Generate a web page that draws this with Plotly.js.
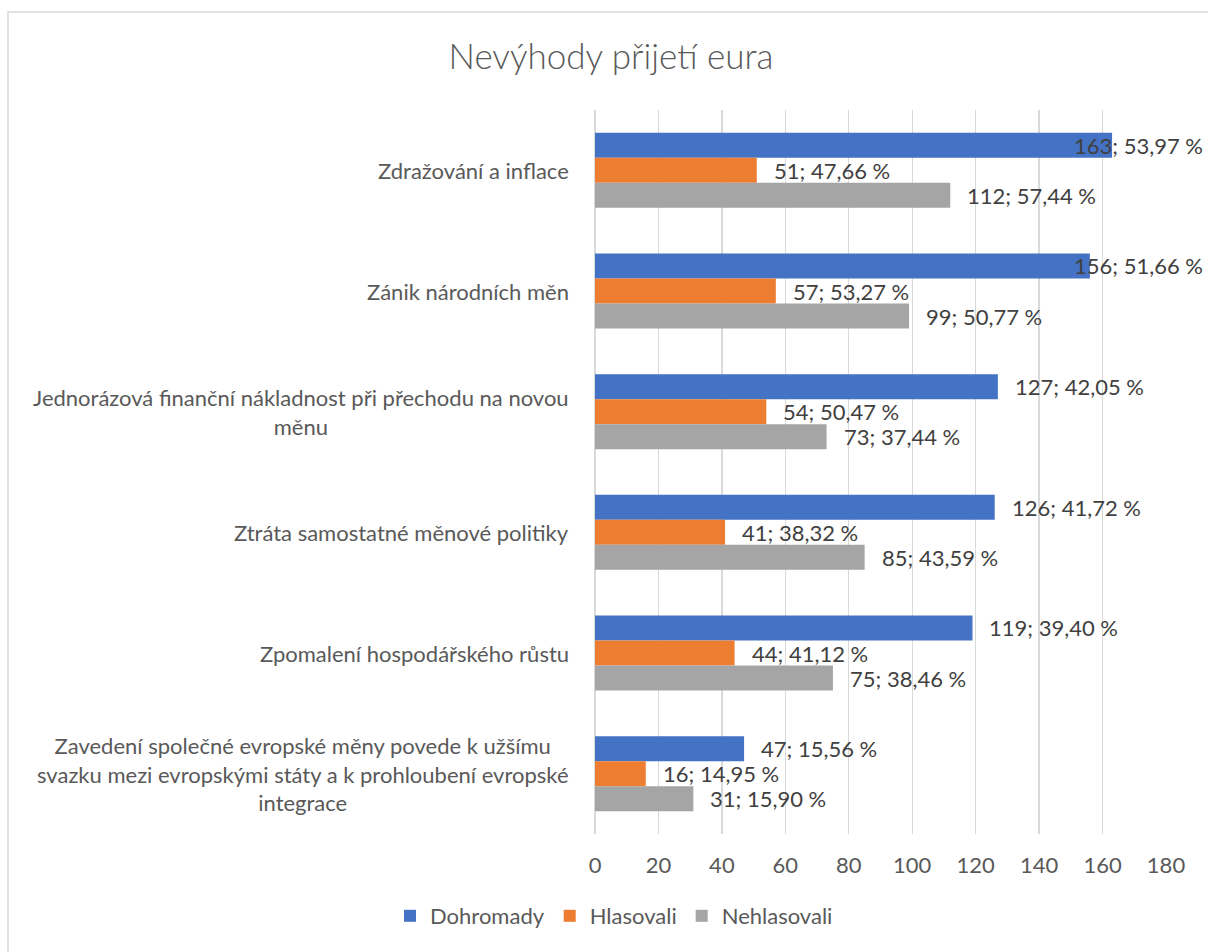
<!DOCTYPE html>
<html>
<head>
<meta charset="utf-8">
<script src="https://cdn.plot.ly/plotly-3.0.1.min.js"></script>
<style>
html,body{margin:0;padding:0;background:#fff;}
#chart{width:1208px;height:952px;}
</style>
</head>
<body>
<div id="chart"></div>
<script>
// ---- data ----
const categories = [
  "Zdražování a inflace",
  "Zánik národních měn",
  "Jednorázová finanční nákladnost při přechodu na novou<br>měnu",
  "Ztráta samostatné měnové politiky",
  "Zpomalení hospodářského růstu",
  "Zavedení společné evropské měny povede k užšímu<br>svazku mezi evropskými státy a k prohloubení evropské<br>integrace"
];
const seriesNames = ["Dohromady", "Hlasovali", "Nehlasovali"];
const dohromady = [163, 156, 127, 126, 119, 47];
const hlasovali = [51, 57, 54, 41, 44, 16];
const nehlasovali = [112, 99, 73, 85, 75, 31];
const dohromadyPct = [53.97, 51.66, 42.05, 41.72, 39.40, 15.56];
const hlasovaliPct = [47.66, 53.27, 50.47, 38.32, 41.12, 14.95];
const nehlasovaliPct = [57.44, 50.77, 37.44, 43.59, 38.46, 15.90];
const xTicks = [0, 20, 40, 60, 80, 100, 120, 140, 160, 180];

// ---- style ----
const colors = ["#4472C4", "#ED7D31", "#A5A5A5"];
const FONT = "Lato, 'Open Sans', sans-serif";
const LBL = 22;
const W = 1208, H = 952;
const ML = 595, MR = 42, MT = 110, MB = 118;
const plotW = W - ML - MR, plotH = H - MT - MB;
const bargap = 0.378;
const xMax = 180;

const values = [dohromady, hlasovali, nehlasovali];
const pcts = [dohromadyPct, hlasovaliPct, nehlasovaliPct];

const fmt = (v, p) => v + "; " + p.toFixed(2).replace(".", ",") + " %";

const traces = values.map((vals, i) => ({
  type: "bar",
  orientation: "h",
  name: seriesNames[i],
  x: vals,
  y: categories.map((c, j) => j),
  marker: {color: colors[i]},
  hoverinfo: "skip"
}));

const annotations = [];
// category labels
categories.forEach((c, j) => {
  annotations.push({
    xref: "paper", yref: "y", x: -24 / plotW, y: j,
    xanchor: "right", yanchor: "middle", align: "center",
    text: c, showarrow: false,
    font: {family: FONT, size: LBL, color: "#595959"}
  });
});
// data labels
const barW = (1 - bargap) / 3;
const pxPerUnit = plotW / xMax;
values.forEach((vals, i) => {
  vals.forEach((v, j) => {
    const txt = fmt(v, pcts[i][j]);
    const estW = txt.length * 0.5 * LBL;
    const endPx = v * pxPerUnit + 15 + estW;
    const yPos = j + (i - 1) * barW;
    if (endPx > plotW + MR - 3) {
      annotations.push({
        xref: "paper", yref: "y", x: (plotW + MR - 3) / plotW, y: yPos,
        xanchor: "right", yanchor: "middle", text: txt, showarrow: false,
        font: {family: FONT, size: LBL, color: "#404040"}
      });
    } else {
      annotations.push({
        xref: "x", yref: "y", x: v, y: yPos, xshift: 15,
        xanchor: "left", yanchor: "middle", text: txt, showarrow: false,
        font: {family: FONT, size: LBL, color: "#404040"}
      });
    }
  });
});

const layout = {
  width: W, height: H,
  margin: {l: ML, r: MR, t: MT, b: MB, pad: 0},
  paper_bgcolor: "#fff", plot_bgcolor: "#fff",
  title: {
    text: "Nevýhody přijetí eura",
    font: {family: FONT, size: 35, color: "#595959", weight: 300},
    x: 611 / W, xref: "container", xanchor: "center",
    y: 1 - 57 / H, yref: "container", yanchor: "middle"
  },
  barmode: "group",
  bargap: bargap, bargroupgap: 0,
  xaxis: {
    range: [0, xMax], tickvals: xTicks, ticktext: xTicks.map(String),
    showgrid: true, gridcolor: "#d9d9d9", gridwidth: 1.3,
    zeroline: true, zerolinecolor: "#d9d9d9", zerolinewidth: 1.3,
    showline: false, ticks: "", ticklabelstandoff: 16,
    tickfont: {family: FONT, size: LBL, color: "#595959"},
    fixedrange: true
  },
  yaxis: {
    type: "linear", range: [5.5, -0.5],
    showticklabels: false, showgrid: false, zeroline: false, showline: false,
    ticks: "", fixedrange: true
  },
  showlegend: true,
  legend: {
    orientation: "h", xref: "container", yref: "container",
    x: 614 / W, xanchor: "center", y: 1 - 916 / H, yanchor: "middle",
    font: {family: FONT, size: LBL, color: "#595959"},
    traceorder: "normal", itemclick: false, itemdoubleclick: false
  },
  annotations: annotations,
  shapes: [{
    type: "rect", xref: "paper", yref: "paper",
    x0: (8 - ML) / plotW, x1: (W + 20 - ML) / plotW,
    y0: -(MB + 20) / plotH, y1: 1 + (MT - 12) / plotH,
    line: {color: "#d9d9d9", width: 1.5}, fillcolor: "rgba(0,0,0,0)", layer: "below"
  }]
};

Plotly.newPlot("chart", traces, layout, {staticPlot: true, displayModeBar: false});
</script>
</body>
</html>
